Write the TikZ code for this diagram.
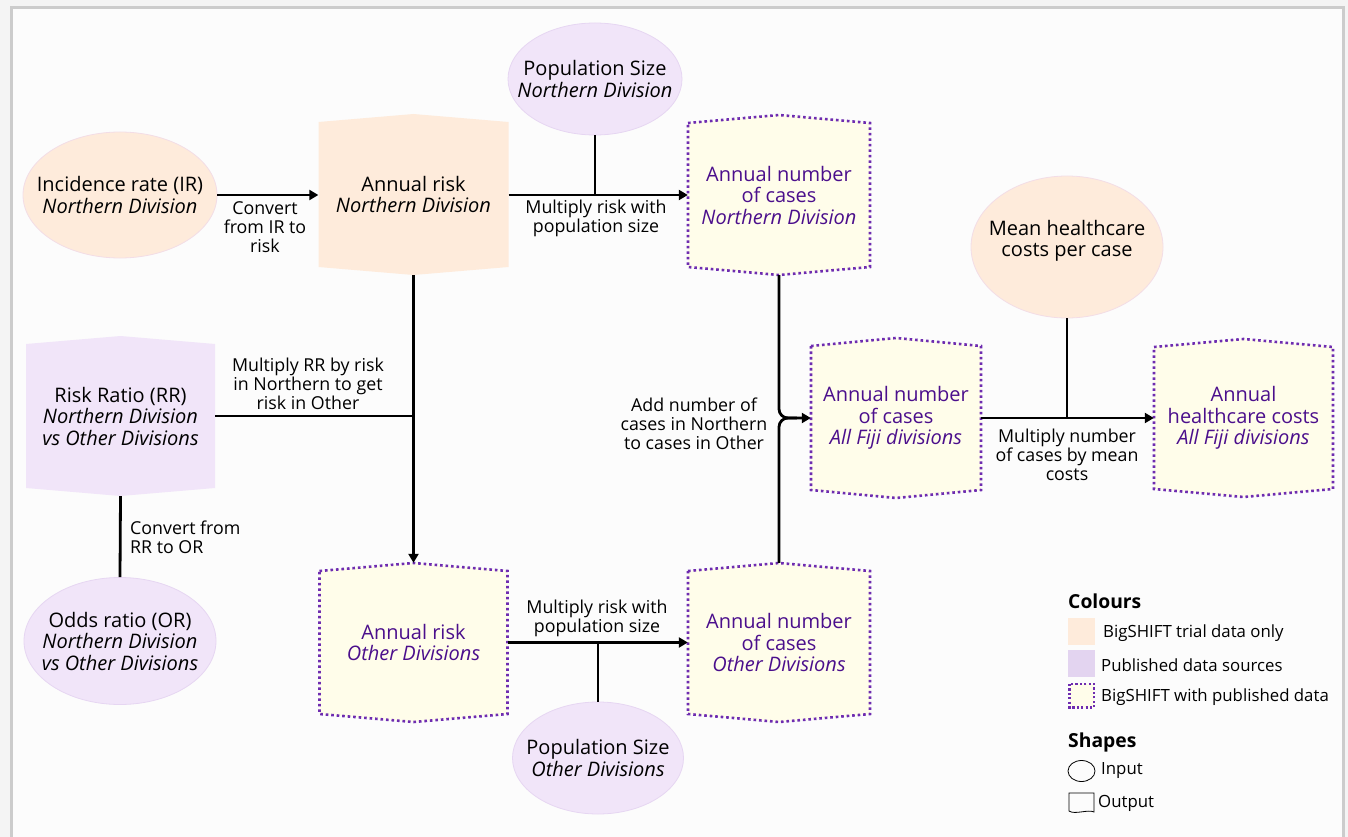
\documentclass[tikz,border=0pt]{standalone}
\usepackage{fontspec}
\setmainfont{Open Sans}
\usetikzlibrary{arrows.meta,shapes.geometric,calc}
\definecolor{bgout}{HTML}{F4F4F4}
\definecolor{bgin}{HTML}{FCFCFC}
\definecolor{framegray}{HTML}{CCCCCC}
\definecolor{peach}{HTML}{FEEBDB}
\definecolor{peachedge}{HTML}{F3DDE6}
\definecolor{lav}{HTML}{F1E5F9}
\definecolor{lavedge}{HTML}{E6D6F2}
\definecolor{lavsw}{HTML}{E3D4F0}
\definecolor{yel}{HTML}{FFFDEA}
\definecolor{purp}{HTML}{4B0F8C}
\definecolor{dotp}{HTML}{6E2CB0}
\tikzset{
  mainfont/.style={font=\fontsize{20}{21.5}\selectfont},
  lblfont/.style={font=\fontsize{17.8}{19}\selectfont},
  legfont/.style={font=\fontsize{16.8}{19}\selectfont},
  inellipse/.style={ellipse, inner sep=0pt},
  peachin/.style={inellipse, fill=peach, draw=peachedge, line width=0.8pt},
  lavin/.style={inellipse, fill=lav, draw=lavedge, line width=0.8pt},
  txt/.style={inner sep=0pt, align=center, mainfont},
  peachout/.style={fill=peach},
  lavout/.style={fill=lav},
  mixout/.style={fill=yel, draw=dotp, line width=2.6pt, dash pattern=on 2.6pt off 2.9pt},
  conn/.style={line width=2.8pt, draw=black},
  arr/.style={conn, -{Triangle[length=9pt,width=10pt]}},
  lbl/.style={inner sep=0pt, align=center, lblfont},
}
\newcommand\outbox[7]{%
  \path[#6] (#2,#3) ++({-#4/2},{-#5/2+8}) -- ++({#4/2},-8) -- ++({#4/2},8)
     -- ++(0,{#5-16}) -- ++({-#4/2},8) -- ++({-#4/2},-8) -- cycle;
  \node[txt, minimum width=#4, minimum height=#5] (#1) at (#2,#3) {#7};}
\begin{document}
\begin{tikzpicture}[x=1pt,y=-1pt]
\useasboundingbox (0,0) rectangle (1348,837);
\fill[bgout] (0,0) rectangle (1348,837);
\filldraw[fill=bgin, draw=framegray, line width=3pt] (11.5,7.5) rectangle (1343.5,860);

% inputs
\node[peachin, minimum width=194, minimum height=126] (ir) at (120,195) {};
\node[txt] (irt) at (120,195) {Incidence rate (IR)\\\textit{Northern Division}};
\node[lavin, minimum width=174, minimum height=112] (popN) at (595,79) {};
\node[txt] (popNt) at (595,79) {Population Size\\\textit{Northern Division}};
\node[peachin, minimum width=192, minimum height=142] (mc) at (1067,247) {};
\node[txt] (mct) at (1067,241) {Mean healthcare\\costs per case};
\node[lavin, minimum width=192, minimum height=127] (orr) at (120,641) {};
\node[txt] (orrt) at (120,641) {Odds ratio (OR)\\\textit{Northern Division}\\\textit{vs Other Divisions}};
\node[lavin, minimum width=171, minimum height=112] (popO) at (598,758) {};
\node[txt] (popOt) at (598,758) {Population Size\\\textit{Other Divisions}};

% outputs
\outbox{arN}{413.5}{194.5}{190}{161}{peachout}{Annual risk\\\textit{Northern Division}}
\outbox{cN}{779}{195}{182}{160}{mixout}{\color{purp}Annual number\\\color{purp}of cases\\\color{purp}\textit{Northern Division}}
\outbox{rr}{120.5}{416}{189}{160}{lavout}{Risk Ratio (RR)\\\textit{Northern Division}\\\textit{vs Other Divisions}}
\outbox{cAll}{896}{418}{170}{160}{mixout}{\color{purp}Annual number\\\color{purp}of cases\\\color{purp}\textit{All Fiji divisions}}
\outbox{hc}{1243.5}{418}{179}{158}{mixout}{\color{purp}Annual\\\color{purp}healthcare costs\\\color{purp}\textit{All Fiji divisions}}
\outbox{arO}{413.5}{642.5}{188}{159}{mixout}{\color{purp}Annual risk\\\color{purp}\textit{Other Divisions}}
\outbox{cO}{779}{642.5}{182}{159}{mixout}{\color{purp}Annual number\\\color{purp}of cases\\\color{purp}\textit{Other Divisions}}

% connectors
\draw[arr] (ir.east) -- (ir.east -| arN.west);
\draw[arr] (arN.east |- cN.west) -- (cN.west);
\draw[conn] (popN.south) -- (popN.south |- cN.west);
\draw[arr] (arN.south) -- (arO.north);
\draw[conn] (rr.east) -- (rr.east -| arN.south);
\draw[conn] (rr.south) -- (orr.north);
\draw[arr] (arO.east) -- (cO.west);
\draw[conn] (popO.north) -- (popO.north |- cO.west);
\draw[arr, rounded corners=9pt] (cN.south) |- (cAll.west);
\draw[conn, rounded corners=9pt] (cO.north) |- ($(cAll.west)+(-14,0)$);
\draw[arr] (cAll.east) -- (hc.west);
\draw[conn] (mc.south) -- (mc.south |- hc.west);

% connector labels
\node[lbl] (l1) at (265,227) {Convert\\from IR to\\risk};
\node[lbl] (l2) at (596,218) {Multiply risk with\\population size};
\node[lbl] (l3) at (308,384) {Multiply RR by risk\\in Northern to get\\risk in Other};
\node[lbl, align=left, anchor=west] (l4) at (130,537) {Convert from\\RR to OR};
\node[lbl] (l5) at (694,424) {Add number of\\cases in Northern\\to cases in Other};
\node[lbl] (l6) at (597,618) {Multiply risk with\\population size};
\node[lbl] (l7) at (1067,455) {Multiply number\\of cases by mean\\costs};

% legend
\node[anchor=west, inner sep=0pt, font=\fontsize{19.3}{21}\selectfont\bfseries] (lgc) at (1068,601) {Colours};
\fill[peach] (1068,618) rectangle (1095,645);
\fill[lavsw] (1068,650) rectangle (1095,677);
\filldraw[fill=yel, draw=dotp, line width=2.2pt, dash pattern=on 2.2pt off 2.2pt] (1069.5,684) rectangle (1094,707.5);
\node[anchor=west, inner sep=0pt, legfont] (lg1) at (1103,633) {BigSHIFT trial data only};
\node[anchor=west, inner sep=0pt, legfont] (lg2) at (1101,665) {Published data sources};
\node[anchor=west, inner sep=0pt, legfont] (lg3) at (1101,697) {BigSHIFT with published data};
\node[anchor=west, inner sep=0pt, font=\fontsize{19.3}{21}\selectfont\bfseries] (lgs) at (1068,742) {Shapes};
\draw[line width=0.8pt] (1081.5,771) ellipse [x radius=13.5, y radius=10.5];
\node[anchor=west, inner sep=0pt, legfont] (lg4) at (1101,771) {Input};
\draw[line width=0.8pt] (1069,793) -- (1094,793) -- (1094,812) .. controls (1088,809) and (1075,815) .. (1069,811) -- cycle;
\node[anchor=west, inner sep=0pt, legfont] (lg5) at (1098,803) {Output};
\end{tikzpicture}
\end{document}
